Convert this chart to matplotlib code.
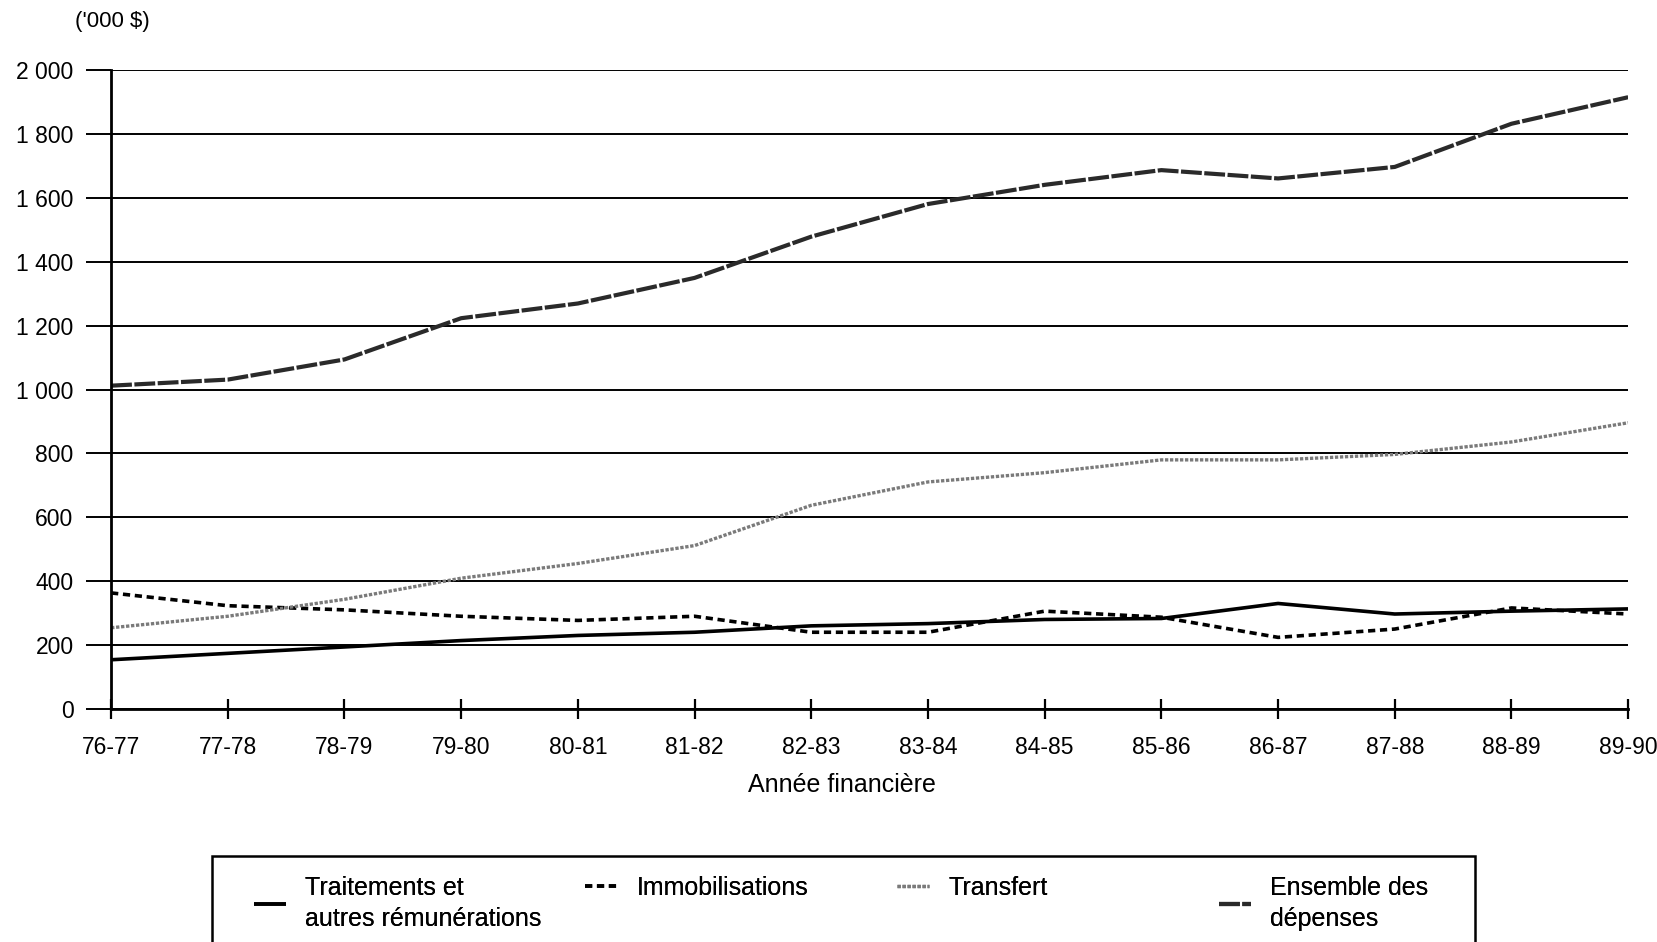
import numpy as np
import matplotlib
matplotlib.use("Agg")
import matplotlib.pyplot as plt
from matplotlib.ticker import FuncFormatter
from matplotlib.patches import Rectangle

plt.rcParams['font.family'] = ['Liberation Sans', 'DejaVu Sans']

# financial years
years = ["76-77", "77-78", "78-79", "79-80", "80-81", "81-82", "82-83",
         "83-84", "84-85", "85-86", "86-87", "87-88", "88-89", "89-90"]

# values in '000 $
traitements = [155, 175, 195, 215, 231, 241, 261, 268, 281, 284, 331, 298, 307, 314]
immobilisations = [364, 324, 311, 291, 278, 291, 241, 241, 307, 288, 225, 251, 317, 298]
transfert = [255, 291, 344, 410, 456, 512, 638, 711, 740, 780, 780, 797, 836, 896]
ensemble = [1012, 1031, 1094, 1223, 1269, 1349, 1478, 1580, 1640, 1686, 1660, 1696, 1831, 1914]

y_ticks = [0, 200, 400, 600, 800, 1000, 1200, 1400, 1600, 1800, 2000]

fig = plt.figure(figsize=(16.58, 9.42), dpi=100)
ax = fig.add_axes([0.067, 0.247, 0.915, 0.679])

x = np.arange(len(years))
l1, = ax.plot(x, traitements, color='black', lw=2.6, solid_capstyle='butt',
              label="Traitements et\nautres rémunérations")
l2, = ax.plot(x, immobilisations, color='black', lw=2.6, linestyle=(0, (2.0, 1.3)),
              label="Immobilisations")
l3, = ax.plot(x, transfert, color='#7a7a7a', lw=2.4, linestyle=(0, (1.0, 0.5)),
              label="Transfert")
l4, = ax.plot(x, ensemble, color='#2a2a2a', lw=3.0, linestyle=(0, (5.0, 0.6)),
              label="Ensemble des\ndépenses")

ax.set_xlim(0, len(years) - 1)
ax.set_ylim(0, 2000)
ax.set_xticks(x)
ax.set_xticklabels(years)
ax.set_yticks(y_ticks)
ax.yaxis.set_major_formatter(FuncFormatter(lambda v, p: "{:,}".format(int(v)).replace(",", " ")))

ax.grid(axis='y', color='black', lw=1.4)
ax.set_axisbelow(True)
for s in ['top', 'right']:
    ax.spines[s].set_visible(False)
ax.spines['left'].set_linewidth(2)
ax.spines['bottom'].set_linewidth(2)

ax.tick_params(axis='y', direction='out', length=18, width=1.4, pad=9, labelsize=16.5)
ax.tick_params(axis='x', direction='inout', length=14, width=1.6, pad=12, labelsize=16.5)

ax.set_xlabel("Année financière", fontsize=18)
ax.xaxis.set_label_coords(0.482, -0.099)
fig.text(0.045, 0.977, "('000 $)", fontsize=16, va='center', ha='left')

# legend box, partly cut off by the bottom of the page
fig.add_artist(Rectangle((0.1276, -0.03), 0.762, 0.121, transform=fig.transFigure,
                         fill=False, edgecolor='black', lw=1.8))

leg_x = [0.153, 0.353, 0.541, 0.735]
for line, lx in zip([l1, l2, l3, l4], leg_x):
    lg = fig.legend(handles=[line], loc='upper left', bbox_to_anchor=(lx, 0.07),
                    frameon=False, fontsize=18, handlelength=1.3,
                    handletextpad=0.75, borderpad=0, borderaxespad=0)
    for t in lg.get_texts():
        t.set_linespacing(1.35)
    fig.add_artist(lg)

fig.savefig("out.png", dpi=100)
plt.close(fig)
